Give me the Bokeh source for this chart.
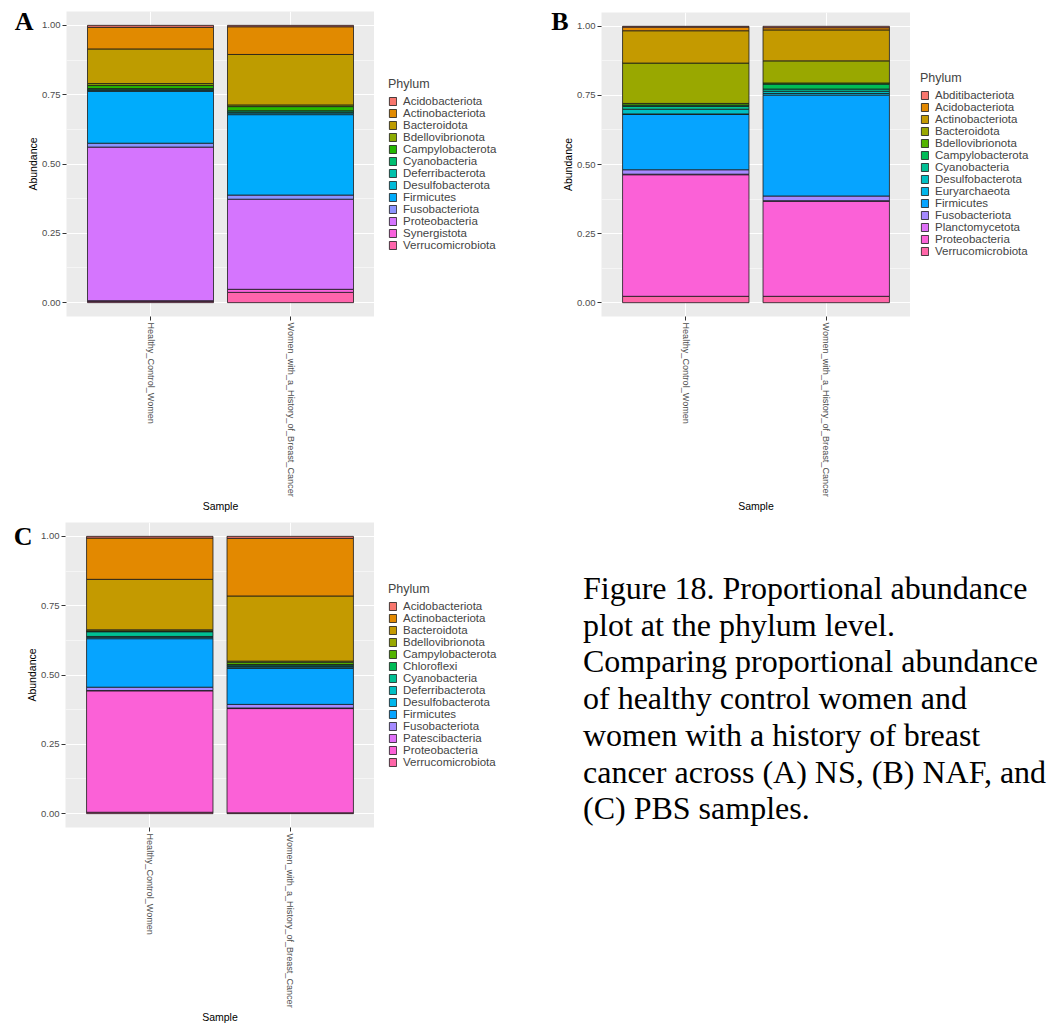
import math
from bokeh.plotting import figure
from bokeh.models import (FactorRange, Range1d, ColumnDataSource, Legend, LegendItem,
                          FixedTicker, PrintfTickFormatter, CustomJSTickFormatter,
                          LinearAxis, Div)
from bokeh.layouts import row, column
from bokeh.embed import file_html
from bokeh.resources import INLINE

samples = ["Healthy_Control_Women", "Women_with_a_History_of_Breast_Cancer"]

# ---- Panel A (NS) ----
phyla_a = ["Acidobacteriota", "Actinobacteriota", "Bacteroidota", "Bdellovibrionota",
           "Campylobacterota", "Cyanobacteria", "Deferribacterota", "Desulfobacterota",
           "Firmicutes", "Fusobacteriota", "Proteobacteria", "Synergistota", "Verrucomicrobiota"]
healthy_a = [0.007, 0.078, 0.125, 0.007, 0.011, 0.004, 0.002, 0.004, 0.187, 0.014, 0.554, 0.002, 0.005]
women_a = [0.005, 0.100, 0.182, 0.006, 0.015, 0.005, 0.003, 0.006, 0.290, 0.015, 0.325, 0.011, 0.037]

# ---- Panel B (NAF) ----
phyla_b = ["Abditibacteriota", "Acidobacteriota", "Actinobacteriota", "Bacteroidota",
           "Bdellovibrionota", "Campylobacterota", "Cyanobacteria", "Desulfobacterota",
           "Euryarchaeota", "Firmicutes", "Fusobacteriota", "Planctomycetota",
           "Proteobacteria", "Verrucomicrobiota"]
healthy_b = [0.003, 0.013, 0.117, 0.146, 0.006, 0.005, 0.010, 0.017, 0.002, 0.200, 0.016, 0.002, 0.440, 0.023]
women_b = [0.005, 0.008, 0.112, 0.080, 0.004, 0.018, 0.008, 0.008, 0.006, 0.365, 0.017, 0.002, 0.344, 0.023]

# ---- Panel C (PBS) ----
phyla_c = ["Acidobacteriota", "Actinobacteriota", "Bacteroidota", "Bdellovibrionota",
           "Campylobacterota", "Chloroflexi", "Cyanobacteria", "Deferribacterota",
           "Desulfobacterota", "Firmicutes", "Fusobacteriota", "Patescibacteria",
           "Proteobacteria", "Verrucomicrobiota"]
healthy_c = [0.006, 0.149, 0.182, 0.004, 0.002, 0.001, 0.017, 0.003, 0.005, 0.175, 0.012, 0.001, 0.438, 0.005]
women_c = [0.007, 0.208, 0.235, 0.004, 0.008, 0.002, 0.005, 0.002, 0.005, 0.130, 0.013, 0.002, 0.376, 0.003]

y_ticks = [0.0, 0.25, 0.5, 0.75, 1.0]
y_minor = [0.125, 0.375, 0.625, 0.875]

caption_lines = ["Figure 18. Proportional abundance",
                 "plot at the phylum level.",
                 "Comparing proportional abundance",
                 "of healthy control women and",
                 "women with a history of breast",
                 "cancer across (A) NS, (B) NAF, and",
                 "(C) PBS samples."]

SANS = "Liberation Sans"
SERIF = "Liberation Serif"


def hcl_hex(h, c=100.0, l=65.0):
    """ggplot2 hue palette colour (polar LUV -> sRGB)."""
    Xn, Yn, Zn = 95.047, 100.0, 108.883
    den = Xn + 15 * Yn + 3 * Zn
    un, vn = 4 * Xn / den, 9 * Yn / den
    hr = math.radians(h)
    u, v = c * math.cos(hr), c * math.sin(hr)
    Y = Yn * (((l + 16) / 116) ** 3 if l > 8 else l / 903.3)
    up = u / (13 * l) + un
    vp = v / (13 * l) + vn
    X = 9.0 * Y * up / (4 * vp)
    Z = -X / 3 - 5 * Y + 3 * Y / vp
    X, Y, Z = X / 100, Y / 100, Z / 100
    rgb = [3.240479 * X - 1.537150 * Y - 0.498535 * Z,
           -0.969256 * X + 1.875992 * Y + 0.041556 * Z,
           0.055648 * X - 0.204043 * Y + 1.057311 * Z]
    out = []
    for ch in rgb:
        ch = 12.92 * ch if ch <= 0.0031308 else 1.055 * ch ** (1 / 2.4) - 0.055
        out.append(int(round(min(max(ch, 0), 1) * 255)))
    return "#%02X%02X%02X" % tuple(out)


def hue_pal(n):
    return [hcl_hex(15 + 360 * i / n) for i in range(n)]


def stack_bars(p, phyla, src):
    cols = hue_pal(len(phyla))
    stack = list(reversed(phyla))
    rends = p.vbar_stack(stack, x="sample", width=0.9, source=src,
                         fill_color=list(reversed(cols)),
                         line_color="#1a1a1a", line_width=0.8)
    return dict(zip(stack, rends))


def make_panel(phyla, healthy, women, width, height, left, top, bottom,
               letter, letter_y, leg_width, leg_margin):
    data = {"sample": samples}
    for i, ph in enumerate(phyla):
        data[ph] = [healthy[i], women[i]]
    src = ColumnDataSource(data)

    p = figure(x_range=FactorRange(factors=samples, range_padding=0.1,
                                   range_padding_units="absolute"),
               y_range=Range1d(-0.05, 1.05),
               width=width, height=height,
               min_border_left=left, min_border_right=0,
               min_border_top=top, min_border_bottom=bottom,
               output_backend="svg", toolbar_location=None, tools="")
    p.background_fill_color = "#EBEBEB"
    p.border_fill_color = "white"
    p.outline_line_color = None
    stack_bars(p, phyla, src)

    p.yaxis.ticker = FixedTicker(ticks=y_ticks, minor_ticks=y_minor)
    p.yaxis.formatter = PrintfTickFormatter(format="%.2f")
    for ax in (p.xaxis[0], p.yaxis[0]):
        ax.axis_line_color = None
        ax.major_tick_line_color = "#333333"
        ax.major_tick_out = 4
        ax.major_tick_in = 0
        ax.minor_tick_line_color = None
        ax.major_label_text_font = SANS
        ax.major_label_text_color = "#4D4D4D"
        ax.axis_label_text_font = SANS
        ax.axis_label_text_font_size = "10.5px"
        ax.axis_label_text_font_style = "normal"
        ax.axis_label_text_color = "black"
        ax.major_label_standoff = 2
    p.yaxis.major_label_text_font_size = "9.5px"
    p.xaxis.major_label_text_font_size = "9.1px"
    p.yaxis.axis_label = "Abundance"
    p.yaxis.axis_label_standoff = 0
    p.xaxis.axis_label = "Sample"
    p.xaxis.axis_label_standoff = 0
    p.xaxis.major_label_orientation = -math.pi / 2

    p.ygrid.grid_line_color = "white"
    p.ygrid.grid_line_width = 1.1
    p.ygrid.minor_grid_line_color = "white"
    p.ygrid.minor_grid_line_width = 0.5
    p.xgrid.grid_line_color = "white"
    p.xgrid.grid_line_width = 1.1

    # panel letter, drawn as the label of an outer left axis
    letter_axis = LinearAxis(ticker=FixedTicker(ticks=[letter_y]),
                             formatter=CustomJSTickFormatter(code="return '%s'" % letter),
                             axis_line_color=None, major_tick_line_color=None,
                             minor_tick_line_color=None, major_label_standoff=-15,
                             major_label_text_font=SERIF, major_label_text_font_style="bold",
                             major_label_text_font_size="26px", major_label_text_color="black")
    p.add_layout(letter_axis, "left")

    # legend: its own narrow figure to the right (same frame height).
    # Its key renderers share the data, but the figure's x range holds no
    # sample factor, so no bar is drawn there - only the legend keys.
    q = figure(x_range=FactorRange(factors=["legend"]), y_range=Range1d(0, 1),
               width=leg_width, height=height,
               min_border_left=0, min_border_right=0,
               min_border_top=top, min_border_bottom=bottom,
               x_axis_location=None, y_axis_location=None,
               output_backend="svg", toolbar_location=None, tools="")
    q.grid.visible = False
    q.outline_line_color = None
    q.background_fill_color = "white"
    q.border_fill_color = "white"
    rmap = stack_bars(q, phyla, src)
    legend = Legend(items=[LegendItem(label=ph, renderers=[rmap[ph]]) for ph in phyla],
                    location="left", title="Phylum",
                    title_text_font=SANS, title_text_font_size="12.5px",
                    title_text_font_style="normal", title_standoff=4,
                    label_text_font=SANS, label_text_font_size="11.5px",
                    glyph_width=9, glyph_height=10, label_height=12,
                    label_standoff=6, spacing=0, padding=3, margin=leg_margin,
                    border_line_color=None, background_fill_alpha=0)
    q.add_layout(legend, "center")
    return row(p, q)


pA = make_panel(phyla_a, healthy_a, women_a, 374, 514, 66, 11, 196, "A", 1.015, 156, 14)
pB = make_panel(phyla_b, healthy_b, women_b, 380, 514, 71, 12, 195, "B", 1.019, 139, 10)
pC = make_panel(phyla_c, healthy_c, women_c, 374, 511, 65, 8, 196, "C", 0.998, 156, 14)

cap_html = ('<div style="font-family:\'Liberation Serif\',serif;font-size:32px;'
            'line-height:36.7px;color:black;white-space:nowrap;'
            'padding-left:48px;padding-top:51px;">'
            + "<br>".join(caption_lines) + "</div>")
cap = Div(text=cap_html, width=519, height=511)

layout = column(row(pA, pB), row(pC, cap))

open("out.html", "w").write(file_html(layout, INLINE))
